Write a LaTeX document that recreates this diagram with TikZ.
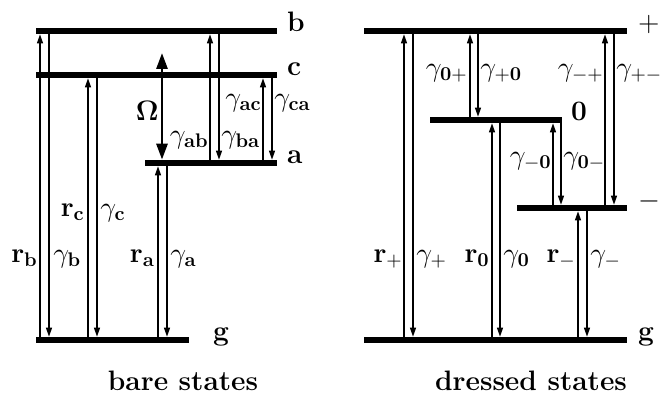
\RequirePackage{fix-cm}
\documentclass[tikz,border=0pt]{standalone}
\usepackage{amsmath,amssymb}
\usepackage{tikz}
\usetikzlibrary{arrows.meta}
\newcommand{\lblsize}{\fontsize{16}{19}\selectfont}
\tikzset{
  lev/.style={fill=black,inner sep=0pt,minimum height=0.12cm,anchor=west},
  tr/.style={-{Triangle[length=1.8mm,width=1.2mm]},line width=0.7pt},
  rabi/.style={{Triangle[length=3.2mm,width=2.2mm]}-{Triangle[length=3.2mm,width=2.2mm]},line width=1.6pt},
  lbl/.style={font=\lblsize\bfseries,inner sep=0pt,anchor=base west},
  rl/.style={font=\lblsize,inner sep=0pt,anchor=base east},
  gl/.style={font=\lblsize,inner sep=0pt,anchor=base west}
}
\begin{document}
\begin{tikzpicture}[x=0.02cm,y=-0.02cm]
\useasboundingbox (0,0) rectangle (662,396);
% bare states
\node[lev,minimum width=4.82cm] (b) at (36,31) {};
\node[lev,minimum width=4.82cm] (c) at (36,75) {};
\node[lev,minimum width=2.64cm] (a) at (145,163) {};
\node[lev,minimum width=3.06cm] (g1) at (36,340) {};
\node[lbl] (lb) at ([xshift=0.18cm]b.east) {b};
\node[lbl] (lc) at ([xshift=0.18cm]c.east) {c};
\node[lbl] (la) at ([xshift=0.18cm]a.east) {a};
\node[lbl] (lg1) at ([xshift=0.46cm]g1.east) {g};
\draw[tr] (40,0 |- g1.north) -- (40,0 |- b.south);
\draw[tr] (49,0 |- b.south) -- (49,0 |- g1.north);
\draw[tr] (88,0 |- g1.north) -- (88,0 |- c.south);
\draw[tr] (97,0 |- c.south) -- (97,0 |- g1.north);
\draw[tr] (158,0 |- g1.north) -- (158,0 |- a.south);
\draw[tr] (167,0 |- a.south) -- (167,0 |- g1.north);
\coordinate (om) at (162,53);
\draw[rabi] (om) -- (162,0 |- a.north);
\draw[tr] (210,0 |- a.north) -- (210,0 |- b.south);
\draw[tr] (219,0 |- b.south) -- (219,0 |- a.north);
\draw[tr] (263,0 |- a.north) -- (263,0 |- c.south);
\draw[tr] (272,0 |- c.south) -- (272,0 |- a.north);
\node[rl] (rb) at (38,262) {$\mathbf{r}_{\mathbf{b}}$};
\node[gl] (gb) at (53,262) {$\gamma_{\mathbf{b}}$};
\node[rl] (rc) at (85,216) {$\mathbf{r}_{\mathbf{c}}$};
\node[gl] (gc) at (100,216) {$\gamma_{\mathbf{c}}$};
\node[rl] (ra) at (155,262) {$\mathbf{r}_{\mathbf{a}}$};
\node[gl] (ga) at (170,262) {$\gamma_{\mathbf{a}}$};
\node[rl] (lom) at (159,120) {$\mathbf{\Omega}$};
\node[rl] (gab) at (209,143) {$\gamma_{\mathbf{ab}}$};
\node[gl] (gba) at (221,143) {$\gamma_{\mathbf{ba}}$};
\node[rl] (gac) at (262,106) {$\gamma_{\mathbf{ac}}$};
\node[gl] (gca) at (274,106) {$\gamma_{\mathbf{ca}}$};
\node[lbl,anchor=base] (bare) at (183,390) {bare states};
% dressed states
\node[lev,minimum width=5.26cm] (p) at (364,31) {};
\node[lev,minimum width=2.64cm] (z) at (430,120) {};
\node[lev,minimum width=2.2cm] (m) at (517,208) {};
\node[lev,minimum width=5.26cm] (g2) at (364,340) {};
\node[gl] (lp) at ([xshift=0.2cm]p.east) {$+$};
\node[lbl] (lz) at ([xshift=0.16cm]z.east) {0};
\node[gl] (lm) at ([xshift=0.2cm]m.east) {$-$};
\node[lbl] (lg2) at ([xshift=0.2cm]g2.east) {g};
\draw[tr] (404,0 |- g2.north) -- (404,0 |- p.south);
\draw[tr] (413,0 |- p.south) -- (413,0 |- g2.north);
\draw[tr] (470,0 |- z.north) -- (470,0 |- p.south);
\draw[tr] (478,0 |- p.south) -- (478,0 |- z.north);
\draw[tr] (492,0 |- g2.north) -- (492,0 |- z.south);
\draw[tr] (500,0 |- z.south) -- (500,0 |- g2.north);
\draw[tr] (553,0 |- m.north) -- (553,0 |- z.south);
\draw[tr] (561,0 |- z.south) -- (561,0 |- m.north);
\draw[tr] (605,0 |- m.north) -- (605,0 |- p.south);
\draw[tr] (614,0 |- p.south) -- (614,0 |- m.north);
\draw[tr] (578,0 |- g2.north) -- (578,0 |- m.south);
\draw[tr] (587,0 |- m.south) -- (587,0 |- g2.north);
\node[rl] (g0p) at (468,76) {$\gamma_{\mathbf{0}+}$};
\node[gl] (gp0) at (480,76) {$\gamma_{+\mathbf{0}}$};
\node[rl] (gmp) at (604,76) {$\gamma_{-+}$};
\node[gl] (gpm) at (616,76) {$\gamma_{+-}$};
\node[rl] (gm0) at (552,164) {$\gamma_{-\mathbf{0}}$};
\node[gl] (g0m) at (563,164) {$\gamma_{\mathbf{0}-}$};
\node[rl] (rp) at (403,262) {$\mathbf{r}_+$};
\node[gl] (gp) at (416,262) {$\gamma_+$};
\node[rl] (r0) at (490,262) {$\mathbf{r}_{\mathbf{0}}$};
\node[gl] (g0) at (503,262) {$\gamma_{\mathbf{0}}$};
\node[rl] (rm) at (576,262) {$\mathbf{r}_-$};
\node[gl] (gm) at (590,262) {$\gamma_-$};
\node[lbl,anchor=base] (dressed) at (531,390) {dressed states};
\end{tikzpicture}
\end{document}
